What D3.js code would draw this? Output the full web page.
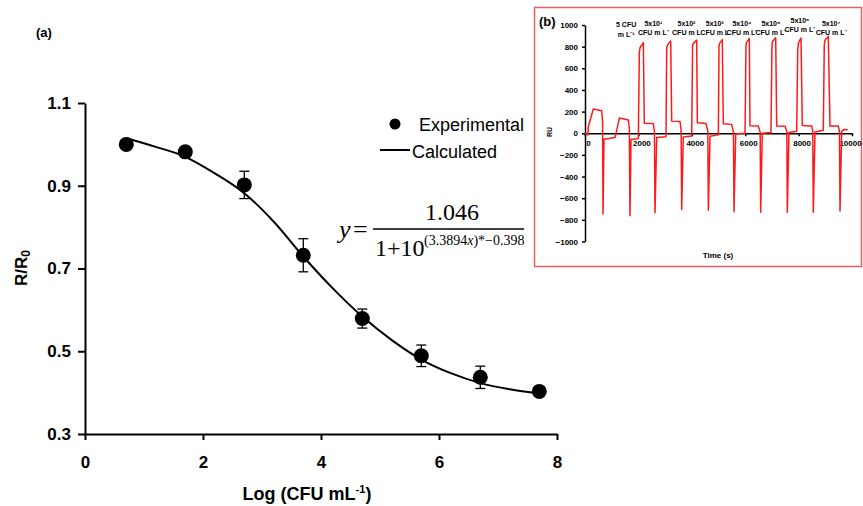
<!DOCTYPE html>
<html>

<head>
    <title>R/R0 vs Log CFU</title>
    <script src="https://d3js.org/d3.v7.min.js"></script>
    <style>
        body {
            margin: 0;
            background: white;
        }

        .main-axis path,
        .main-axis line {
            stroke: black;
            stroke-width: 2px;
        }

        .main-axis text {
            font-family: "Liberation Sans", Arial, sans-serif;
            font-size: 17px;
            font-weight: bold;
            fill: black;
        }

        .ins-axis path,
        .ins-axis line {
            stroke: black;
            stroke-width: 1.5px;
        }

        .ins-axis text {
            font-family: "Liberation Sans", Arial, sans-serif;
            font-size: 8px;
            font-weight: bold;
            fill: black;
        }
    </style>
</head>

<body>
    <div id="chart"></div>

    <script>
        // experimental points, log(CFU/mL) vs R/R0
        var expX = [0.7, 1.7, 2.7, 3.7, 4.7, 5.7, 6.7, 7.7];
        var expY = [1.0, 0.982, 0.902, 0.732, 0.579, 0.489, 0.437, 0.403];
        var expErr = [0.008, 0.008, 0.033, 0.040, 0.023, 0.026, 0.027, 0.01];

        // fitted curve
        var calcX = [0.7, 1.2, 1.7, 2.2, 2.7, 3.2, 3.7, 4.2, 4.7, 5.2, 5.7, 6.2, 6.7, 7.2, 7.7];
        var calcY = [1.015, 0.994, 0.970, 0.930, 0.882, 0.813, 0.729, 0.652, 0.584, 0.527, 0.480, 0.447, 0.423, 0.408, 0.398];

        var xTicks = [0, 2, 4, 6, 8];
        var yTicks = [0.3, 0.5, 0.7, 0.9, 1.1];

        // inset (b) sensorgram
        var traceT = [0, 110, 124, 311, 625, 660, 674, 712, 1124,
            1200, 1286, 1622, 1660, 1685, 1723, 1997,
            2035, 2060, 2185, 2221, 2558, 2600, 2622, 2685, 3034,
            3060, 3083, 3210, 3247, 3558, 3600, 3621, 3682, 3996,
            4030, 4056, 4183, 4208, 4532, 4600, 4620, 4682, 4994,
            5019, 5040, 5142, 5180, 5494, 5560, 5581, 5644, 5993,
            6030, 6050, 6154, 6180, 6491, 6560, 6580, 6640, 6966,
            7000, 7015, 7142, 7180, 7491, 7560, 7577, 7640, 7929,
            7966, 8000, 8090, 8139, 8491, 8530, 8551, 8614, 8925,
            8962, 8990, 9112, 9176, 9487, 9530, 9551, 9614, 9712, 9838];
        var traceRU = [0, -15, 60, 224, 208, 100, -745, -55, -40,
            40, 140, 123, 50, -762, -58, -50,
            745, 790, 838, 92, 90, 20, -735, -40, -33,
            790, 814, 852, 112, 108, 30, -705, -35, -25,
            810, 830, 860, 96, 90, 20, -712, -28, -15,
            810, 830, 865, 88, 82, 10, -725, -8, 0,
            815, 840, 875, 70, 66, 10, -730, 0, 6,
            780, 845, 882, 66, 65, 15, -730, 8, 18,
            770, 840, 880, 72, 68, 20, -730, 12, 28,
            820, 860, 895, 68, 66, 20, -718, 18, 35, 33];

        var insXTicks = [0, 2000, 4000, 6000, 8000, 10000];
        var insYTicks = [-1000, -800, -600, -400, -200, 0, 200, 400, 600, 800, 1000];

        var concTop = ["5 CFU", "5x10¹", "5x10²", "5x10³", "5x10⁴", "5x10⁵", "5x10⁶", "5x10⁷"];
        var concBottom = ["m L⁻¹", "CFU m L⁻", "CFU m L", "CFU m L", "CFU m L⁻", "CFU m L⁻", "CFU m L⁻", "CFU m L⁻"];
        var concT = [1540, 2560, 3800, 4860, 5880, 6960, 8050, 9220];

        var svg = d3.select("#chart")
            .append("svg")
            .attr("width", 863)
            .attr("height", 506);

        // ---------- main chart (a) ----------
        var x = d3.scaleLinear().domain([0, 8]).range([85, 557]);
        var y = d3.scaleLinear().domain([0.3, 1.1]).range([434, 103]);

        svg.append("g")
            .attr("class", "main-axis")
            .attr("transform", "translate(0," + y(0.3) + ")")
            .call(d3.axisBottom(x).tickValues(xTicks).tickSize(6).tickSizeOuter(0).tickPadding(16)
                .tickFormat(d3.format("d")));

        svg.append("g")
            .attr("class", "main-axis")
            .attr("transform", "translate(" + x(0) + ",0)")
            .call(d3.axisLeft(y).tickValues(yTicks).tickSize(7).tickSizeOuter(0).tickPadding(7)
                .tickFormat(d3.format(".1f")));

        svg.append("text")
            .attr("x", 36).attr("y", 37)
            .style("font-family", "Liberation Sans, Arial, sans-serif")
            .style("font-size", "13px").style("font-weight", "bold")
            .text("(a)");

        var xt = svg.append("text")
            .attr("x", 307).attr("y", 500)
            .attr("text-anchor", "middle")
            .style("font-family", "Liberation Sans, Arial, sans-serif")
            .style("font-size", "18px").style("font-weight", "bold");
        xt.append("tspan").text("Log (CFU mL");
        xt.append("tspan").attr("dy", -7).style("font-size", "11px").text("-1");
        xt.append("tspan").attr("dy", 7).text(")");

        var yt = svg.append("text")
            .attr("transform", "translate(27,268) rotate(-90)")
            .attr("text-anchor", "middle")
            .style("font-family", "Liberation Sans, Arial, sans-serif")
            .style("font-size", "17px").style("font-weight", "bold");
        yt.append("tspan").text("R/R");
        yt.append("tspan").attr("dy", 3).style("font-size", "12px").text("0");

        var calcData = calcX.map((v, i) => ({ x: v, y: calcY[i] }));
        svg.append("path")
            .datum(calcData)
            .attr("fill", "none")
            .attr("stroke", "black")
            .attr("stroke-width", 2)
            .attr("d", d3.line().x(d => x(d.x)).y(d => y(d.y)).curve(d3.curveMonotoneX));

        var expData = expX.map((v, i) => ({ x: v, y: expY[i], e: expErr[i] }));
        var eb = svg.append("g").attr("stroke", "black").attr("stroke-width", 1.3);
        eb.selectAll(".ev").data(expData).enter().append("line")
            .attr("x1", d => x(d.x)).attr("x2", d => x(d.x))
            .attr("y1", d => y(d.y + d.e)).attr("y2", d => y(d.y - d.e));
        eb.selectAll(".et").data(expData).enter().append("line")
            .attr("x1", d => x(d.x) - 5).attr("x2", d => x(d.x) + 5)
            .attr("y1", d => y(d.y + d.e)).attr("y2", d => y(d.y + d.e));
        eb.selectAll(".eb").data(expData).enter().append("line")
            .attr("x1", d => x(d.x) - 5).attr("x2", d => x(d.x) + 5)
            .attr("y1", d => y(d.y - d.e)).attr("y2", d => y(d.y - d.e));

        svg.selectAll(".dot").data(expData).enter().append("circle")
            .attr("cx", d => x(d.x))
            .attr("cy", d => y(d.y))
            .attr("r", 7.5)
            .attr("fill", "black");

        // legend
        svg.append("circle").attr("cx", 395).attr("cy", 124).attr("r", 5.5).attr("fill", "black");
        svg.append("text").attr("x", 419).attr("y", 131)
            .style("font-family", "Liberation Sans, Arial, sans-serif").style("font-size", "18px")
            .text("Experimental");
        svg.append("line").attr("x1", 380).attr("x2", 410).attr("y1", 150).attr("y2", 150)
            .attr("stroke", "black").attr("stroke-width", 2);
        svg.append("text").attr("x", 412).attr("y", 158)
            .style("font-family", "Liberation Sans, Arial, sans-serif").style("font-size", "18px")
            .text("Calculated");

        // equation
        var serif = "Liberation Serif, Times New Roman, serif";
        svg.append("text").attr("x", 339).attr("y", 238)
            .style("font-family", serif).style("font-size", "26px").style("font-style", "italic")
            .text("y");
        svg.append("text").attr("x", 353).attr("y", 238)
            .style("font-family", serif).style("font-size", "26px")
            .text("=");
        svg.append("text").attr("x", 452).attr("y", 220).attr("text-anchor", "middle")
            .style("font-family", serif).style("font-size", "24px")
            .text("1.046");
        svg.append("line").attr("x1", 373).attr("x2", 524).attr("y1", 229).attr("y2", 229)
            .attr("stroke", "black").attr("stroke-width", 1.3);
        svg.append("text").attr("x", 375).attr("y", 256)
            .style("font-family", serif).style("font-size", "24px")
            .text("1+10");
        var ex = svg.append("text").attr("x", 424).attr("y", 245)
            .style("font-family", serif).style("font-size", "14px");
        ex.append("tspan").text("(3.3894");
        ex.append("tspan").style("font-style", "italic").text("x");
        ex.append("tspan").text(")*\u22120.398");

        // ---------- inset (b) ----------
        svg.append("rect")
            .attr("x", 534.5).attr("y", 7.5).attr("width", 327).attr("height", 259)
            .attr("fill", "white")
            .attr("stroke", "#ec5f5f").attr("stroke-width", 1.5);

        var ix = d3.scaleLinear().domain([0, 10000]).range([585, 852]);
        var iy = d3.scaleLinear().domain([-1000, 1000]).range([241.5, 25]);

        svg.append("g")
            .attr("class", "ins-axis")
            .attr("transform", "translate(" + ix(0) + ",0)")
            .call(d3.axisLeft(iy).tickValues(insYTicks).tickSize(3).tickSizeOuter(0).tickPadding(4)
                .tickFormat(d3.format("d")));

        var ixa = svg.append("g")
            .attr("class", "ins-axis")
            .attr("transform", "translate(0," + iy(0) + ")")
            .call(d3.axisBottom(ix).tickValues(insXTicks).tickSize(3).tickSizeOuter(0).tickPadding(4)
                .tickFormat(d3.format("d")));
        ixa.selectAll("text").attr("dx", d => d == 10000 ? -2 : 3);

        var traceData = traceT.map((t, i) => ({ t: t, v: traceRU[i] }));
        svg.append("path")
            .datum(traceData)
            .attr("fill", "none")
            .attr("stroke", "#ff1a1a")
            .attr("stroke-width", 1.5)
            .attr("stroke-linejoin", "round")
            .attr("d", d3.line().x(d => ix(d.t)).y(d => iy(d.v)));

        svg.append("text").attr("x", 539).attr("y", 26)
            .style("font-family", "Liberation Sans, Arial, sans-serif")
            .style("font-size", "13px").style("font-weight", "bold")
            .text("(b)");

        svg.append("text")
            .attr("transform", "translate(552,132) rotate(-90)")
            .attr("text-anchor", "middle")
            .style("font-family", "Liberation Sans, Arial, sans-serif")
            .style("font-size", "7px").style("font-weight", "bold")
            .text("RU");

        svg.append("text").attr("x", 718).attr("y", 258).attr("text-anchor", "middle")
            .style("font-family", "Liberation Sans, Arial, sans-serif")
            .style("font-size", "8px").style("font-weight", "bold")
            .text("Time (s)");

        var conc = svg.append("g")
            .style("font-family", "Liberation Sans, Arial, sans-serif")
            .style("font-size", "7px").style("font-weight", "bold")
            .attr("text-anchor", "middle");
        conc.selectAll(".ct").data(concTop).enter().append("text")
            .attr("x", (d, i) => ix(concT[i]))
            .attr("y", (d, i) => i == 6 ? 23 : (i == 0 ? 27 : 26))
            .text(d => d);
        conc.selectAll(".cb").data(concBottom).enter().append("text")
            .attr("x", (d, i) => ix(concT[i]))
            .attr("y", (d, i) => i == 6 ? 32 : (i == 0 ? 37 : 35))
            .text(d => d);
    </script>
</body>

</html>
